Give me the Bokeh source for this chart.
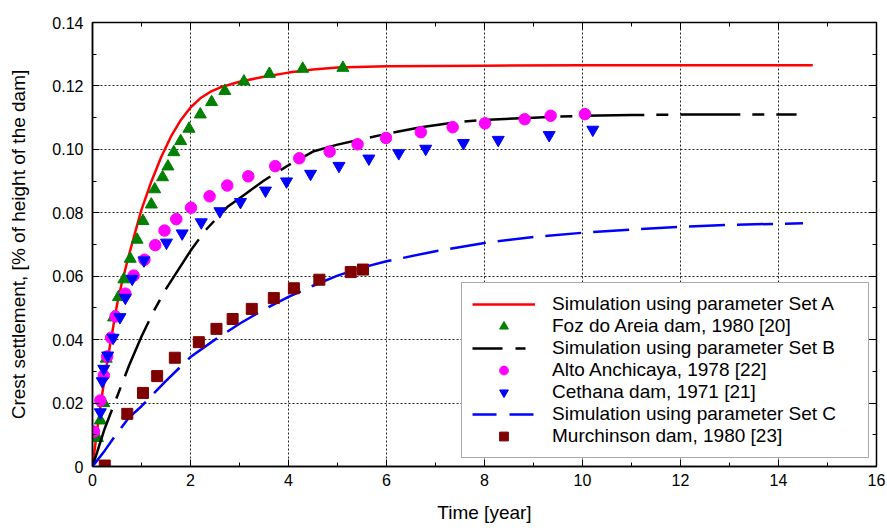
from bokeh.plotting import figure
from bokeh.models import Range1d, FixedTicker, LinearAxis, Legend, LegendItem
from bokeh.embed import file_html
from bokeh.resources import INLINE

# ---------------- data ----------------
# Simulation using parameter Set A
set_a_t = [0.0, 0.1, 0.2, 0.3, 0.4, 0.5, 0.6, 0.75, 0.9, 1.0, 1.2, 1.4, 1.6, 1.8,
           2.0, 2.2, 2.4, 2.6, 3.0, 3.5, 4.0, 4.5, 5.0, 6.0, 8.0, 10.0, 12.0, 14.7]
set_a_s = [0.0, 0.012, 0.023, 0.033, 0.042, 0.051, 0.058, 0.067, 0.0755, 0.081, 0.0898,
           0.0975, 0.104, 0.1092, 0.1132, 0.1161, 0.1181, 0.1195, 0.1213, 0.1229, 0.1242,
           0.1252, 0.1258, 0.1262, 0.1264, 0.1265, 0.1265, 0.1265]

# Foz do Areia dam, 1980
foz_t = [0.1, 0.16, 0.23, 0.28, 0.43, 0.53, 0.64, 0.77, 0.91, 1.03, 1.2, 1.27, 1.43,
         1.54, 1.66, 1.8, 1.97, 2.2, 2.43, 2.7, 3.09, 3.61, 4.29, 5.11]
foz_s = [0.009, 0.0145, 0.020, 0.034, 0.047, 0.0534, 0.059, 0.0655, 0.0715, 0.0774,
         0.0826, 0.0874, 0.0912, 0.0946, 0.0991, 0.1026, 0.1065, 0.111, 0.1149, 0.1184,
         0.1214, 0.1238, 0.1254, 0.1257]

# Simulation using parameter Set B
set_b_t = [0.0, 0.25, 0.5, 0.75, 1.0, 1.25, 1.5, 1.75, 2.0, 2.3, 2.75, 3.1, 3.5, 4.0,
           4.5, 5.0, 5.5, 6.0, 6.7, 7.4, 8.0, 9.0, 10.0, 11.0, 12.0, 13.0, 14.37]
set_b_s = [0.0, 0.012, 0.022, 0.032, 0.041, 0.049, 0.056, 0.062, 0.068, 0.0744, 0.0818,
           0.0857, 0.0902, 0.095, 0.0993, 0.1015, 0.1032, 0.1049, 0.107, 0.1085, 0.1093,
           0.110, 0.1106, 0.1108, 0.111, 0.111, 0.111]

# Alto Anchicaya, 1978
alto_t = [0.03, 0.16, 0.23, 0.3, 0.38, 0.47, 0.67, 0.84, 1.06, 1.28, 1.47, 1.71, 2.01,
          2.39, 2.75, 3.18, 3.73, 4.22, 4.84, 5.41, 5.99, 6.7, 7.35, 8.01, 8.82, 9.35,
          10.05]
alto_s = [0.011, 0.0208, 0.0287, 0.0347, 0.0406, 0.0473, 0.0545, 0.0602, 0.0652, 0.0698,
          0.0744, 0.078, 0.0816, 0.0852, 0.0886, 0.0915, 0.0947, 0.0972, 0.0993, 0.1016,
          0.1036, 0.1054, 0.107, 0.1082, 0.1095, 0.1106, 0.1111]

# Cethana dam, 1971
ceth_t = [0.16, 0.2, 0.23, 0.31, 0.42, 0.56, 0.67, 0.81, 1.05, 1.51, 1.83, 2.22, 2.6,
          3.02, 3.53, 3.96, 4.45, 5.03, 5.64, 6.25, 6.8, 7.57, 8.28, 9.32, 10.21]
ceth_s = [0.0171, 0.0269, 0.0308, 0.035, 0.0406, 0.0471, 0.0532, 0.0592, 0.065, 0.0706,
          0.0735, 0.077, 0.0805, 0.0834, 0.087, 0.0899, 0.0923, 0.0948, 0.0971, 0.0988,
          0.1002, 0.102, 0.103, 0.1045, 0.1062]

# Simulation using parameter Set C
set_c_t = [0.0, 0.25, 0.5, 0.75, 1.0, 1.25, 1.5, 2.0, 2.5, 3.0, 3.5, 4.0, 4.5, 5.0,
           5.5, 6.0, 7.0, 8.0, 9.0, 10.0, 11.0, 12.0, 13.0, 14.5]
set_c_s = [0.0, 0.005, 0.0105, 0.0155, 0.019, 0.023, 0.027, 0.0345, 0.040, 0.045,
           0.0495, 0.0535, 0.057, 0.0602, 0.0627, 0.0647, 0.0679, 0.0705, 0.0724,
           0.0737, 0.0747, 0.0756, 0.0762, 0.0767]

# Murchinson dam, 1980
murch_t = [0.25, 0.71, 1.03, 1.32, 1.68, 2.17, 2.53, 2.86, 3.25, 3.7, 4.11, 4.63, 5.27, 5.52]
murch_s = [0.0003, 0.0166, 0.0232, 0.0285, 0.0343, 0.0392, 0.0434, 0.0465, 0.0497,
           0.0531, 0.0562, 0.0589, 0.0613, 0.0621]

legend_labels = ["Simulation using parameter Set A", "Foz do Areia dam, 1980 [20]",
                 "Simulation using parameter Set B", "Alto Anchicaya, 1978 [22]",
                 "Cethana dam, 1971 [21]", "Simulation using parameter Set C",
                 "Murchinson dam, 1980 [23]"]

x_ticks = [0, 2, 4, 6, 8, 10, 12, 14, 16]
x_tick_labels = ["0", "2", "4", "6", "8", "10", "12", "14", "16"]
x_minor = [1, 3, 5, 7, 9, 11, 13, 15]
y_ticks = [0, 0.02, 0.04, 0.06, 0.08, 0.1, 0.12, 0.14]
y_tick_labels = ["0", "0.02", "0.04", "0.06", "0.08", "0.10", "0.12", "0.14"]
y_minor = [0.01, 0.03, 0.05, 0.07, 0.09, 0.11, 0.13]

FONT = "Liberation Sans"

p = figure(width=887, height=528, x_range=Range1d(0, 16), y_range=Range1d(0, 0.14),
           output_backend="svg", toolbar_location=None,
           min_border_left=92, min_border_right=11, min_border_top=22, min_border_bottom=62)
p.outline_line_color = "black"
p.outline_line_width = 1.5
p.background_fill_color = "white"
p.border_fill_color = "white"

xt = FixedTicker(ticks=x_ticks, minor_ticks=x_minor)
yt = FixedTicker(ticks=y_ticks, minor_ticks=y_minor)

xa = p.xaxis[0]
ya = p.yaxis[0]
xa.ticker = xt
ya.ticker = yt
xa.major_label_overrides = dict(zip(x_ticks, x_tick_labels))
ya.major_label_overrides = dict(zip(y_ticks, y_tick_labels))
xa.axis_label = "Time [year]"
ya.axis_label = "Crest settlement, [% of height of the dam]"
for ax in (xa, ya):
    ax.major_tick_in = 7
    ax.major_tick_out = 0
    ax.minor_tick_in = 4
    ax.minor_tick_out = 0
    ax.axis_line_width = 1.5
    ax.axis_line_color = "black"
    ax.major_tick_line_color = "black"
    ax.minor_tick_line_color = "black"
    ax.major_label_text_font = FONT
    ax.major_label_text_font_size = "16px"
    ax.major_label_text_color = "black"
    ax.axis_label_text_font = FONT
    ax.axis_label_text_font_size = "19px"
    ax.axis_label_text_font_style = "normal"
    ax.axis_label_text_color = "black"
xa.major_label_standoff = 7
xa.axis_label_standoff = 13
ya.major_label_standoff = 9
ya.axis_label_standoff = 20

for loc, tk, ticks in (("above", xt, x_ticks), ("right", yt, y_ticks)):
    ax = LinearAxis(ticker=tk, major_tick_in=7, major_tick_out=0, minor_tick_in=4,
                    minor_tick_out=0, axis_line_color=None, major_label_standoff=0,
                    major_label_text_font_size="0px",
                    major_label_overrides={t: "" for t in ticks})
    p.add_layout(ax, loc)

p.xgrid.ticker = xt
p.ygrid.ticker = yt
for g in (p.xgrid[0], p.ygrid[0]):
    g.grid_line_color = "black"
    g.grid_line_dash = "2 2"
    g.grid_line_width = 1
    g.grid_line_alpha = 0.85

r_a = p.line(set_a_t, set_a_s, line_color="#ff0000", line_width=2.5)
r_foz = p.scatter(foz_t, foz_s, marker="triangle", size=12,
                  fill_color="#008000", line_color="#008000")
r_b = p.line(set_b_t, set_b_s, line_color="black", line_width=2.5, line_dash="60 12 12 12")
r_alto = p.scatter(alto_t, alto_s, marker="circle", size=11.5,
                   fill_color="#ff00ff", line_color="#ff00ff")
r_ceth = p.scatter(ceth_t, ceth_s, marker="inverted_triangle", size=12,
                   fill_color="#0000ff", line_color="#0000ff")
r_c = p.line(set_c_t, set_c_s, line_color="#0000ff", line_width=2.5, line_dash="36 12")
r_murch = p.scatter(murch_t, murch_s, marker="square", size=11,
                    fill_color="#800000", line_color="#800000")

# legend-only glyphs (no visible data) with the dash pattern seen in the legend box
nan = float("nan")
lg_b = p.line([nan], [nan], line_color="black", line_width=2.5, line_dash="30 13 10 13")
lg_c = p.line([nan], [nan], line_color="#0000ff", line_width=2.5, line_dash="24 13")

renderers = [r_a, r_foz, lg_b, r_alto, r_ceth, lg_c, r_murch]
legend = Legend(items=[LegendItem(label=l, renderers=[r]) for l, r in zip(legend_labels, renderers)],
                location=(369, 8), padding=10, spacing=0, margin=0,
                label_height=22, glyph_height=22, glyph_width=63, label_standoff=17,
                label_width=306, border_line_color="#555555", border_line_width=1,
                background_fill_color="white", background_fill_alpha=1.0,
                label_text_font=FONT, label_text_font_size="19px", label_text_color="black")
p.add_layout(legend)

open("out.html", "w").write(file_html(p, INLINE))
